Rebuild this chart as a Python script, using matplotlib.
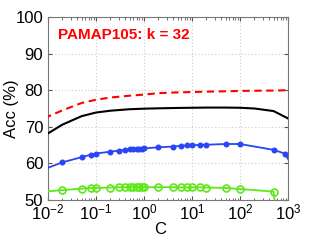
import matplotlib
matplotlib.use("Agg")
import matplotlib.pyplot as plt
import numpy as np
from matplotlib.ticker import LogLocator, FixedLocator, NullFormatter

plt.rcParams['font.family'] = ['Liberation Sans', 'DejaVu Sans']

# Data
c_red = [0.005, 0.01, 0.02, 0.05, 0.1, 0.2, 0.5, 1, 2, 5, 10, 20, 50, 100, 200, 500, 1000, 2000]
acc_red = [71.0, 72.8, 74.5, 76.5, 77.4, 78.0, 78.5, 78.8, 79.2, 79.4, 79.5, 79.6, 79.7, 79.8, 79.85, 79.9, 80.0, 80.0]

c_black = [0.005, 0.01, 0.02, 0.05, 0.1, 0.2, 0.5, 1, 2, 5, 10, 20, 50, 100, 200, 500, 1000, 2000]
acc_black = [65.5, 68.2, 70.6, 72.9, 73.9, 74.4, 74.8, 74.95, 75.05, 75.15, 75.2, 75.25, 75.25, 75.2, 75.0, 74.3, 72.3, 68.0]

c_blue = [0.005, 0.02, 0.05, 0.08, 0.1, 0.2, 0.3, 0.4, 0.5, 0.6, 0.7, 0.8, 0.9, 1, 2, 4, 6, 8, 10, 15, 20, 50, 100, 500, 850, 2000]
acc_blue = [57.3, 60.3, 61.7, 62.4, 62.7, 63.2, 63.5, 63.7, 63.8, 63.9, 64.0, 64.0, 64.05, 64.1, 64.4, 64.6, 64.8, 64.9, 64.9, 65.1, 65.1, 65.3, 65.3, 63.7, 62.7, 55.0]

c_green = [0.005, 0.02, 0.05, 0.08, 0.1, 0.2, 0.3, 0.4, 0.5, 0.6, 0.7, 0.8, 0.9, 1, 2, 4, 6, 8, 10, 15, 20, 50, 100, 500, 1000]
acc_green = [52.0, 52.7, 53.1, 53.3, 53.3, 53.4, 53.5, 53.5, 53.5, 53.5, 53.5, 53.5, 53.5, 53.5, 53.5, 53.5, 53.45, 53.45, 53.45, 53.45, 53.4, 53.3, 53.0, 52.3, 20.0]

title_text = "PAMAP105: k = 32"
y_ticks = [50, 60, 70, 80, 90, 100]
x_ticks = [1e-2, 1e-1, 1e0, 1e1, 1e2, 1e3]

fig = plt.figure(figsize=(3.19, 2.40), dpi=100)
ax = fig.add_axes([48/319, 1 - 200/240, 240/319, 183/240])

ax.plot(c_red, acc_red, color='#ff0000', linestyle=(0, (3.5, 2.2)), linewidth=1.5, zorder=3)
ax.plot(c_black, acc_black, color='black', linewidth=1.5, zorder=3)
ax.plot(c_blue, acc_blue, color='#2a45f5', linewidth=1.3, marker='o', markersize=3.3,
        markerfacecolor='#2a45f5', markeredgecolor='#2a45f5', zorder=3)
ax.plot(c_green, acc_green, color='#5ee817', linewidth=1.3, marker='o', markersize=5,
        markerfacecolor='none', markeredgecolor='#5ee817', markeredgewidth=1.2, zorder=3)

ax.set_xscale('log')
ax.set_xlim(1e-2, 1e3)
ax.set_ylim(50, 100)
ax.set_yticks(y_ticks)
ax.xaxis.set_major_locator(FixedLocator(x_ticks))
ax.xaxis.set_minor_locator(LogLocator(base=10, subs=np.arange(2, 10)))
ax.xaxis.set_minor_formatter(NullFormatter())

ax.grid(True, which='major', color='#cccccc', linestyle=(0, (1, 2)), linewidth=0.8)
ax.tick_params(which='both', direction='in', top=True, right=True, colors='#555555',
               labelcolor='black', labelsize=12)
ax.tick_params(axis='x', which='major', pad=2)
ax.tick_params(which='major', length=3)
ax.tick_params(which='minor', length=1.8)
for s in ax.spines.values():
    s.set_color('#777777')
    s.set_linewidth(0.8)

ax.set_ylabel('Acc (%)', fontsize=12)
ax.yaxis.set_label_coords((19 - 48) / 240, 0.5)
ax.set_xlabel('C', fontsize=12)
ax.xaxis.set_label_coords((160 - 48) / 240, -(222 - 200) / 183)

ax.text((58 - 48) / 240, (200 - 35) / 183, title_text, transform=ax.transAxes,
        color='#ff0000', fontsize=11, fontweight='bold', va='center', ha='left')

fig.savefig('out.png', dpi=100)
